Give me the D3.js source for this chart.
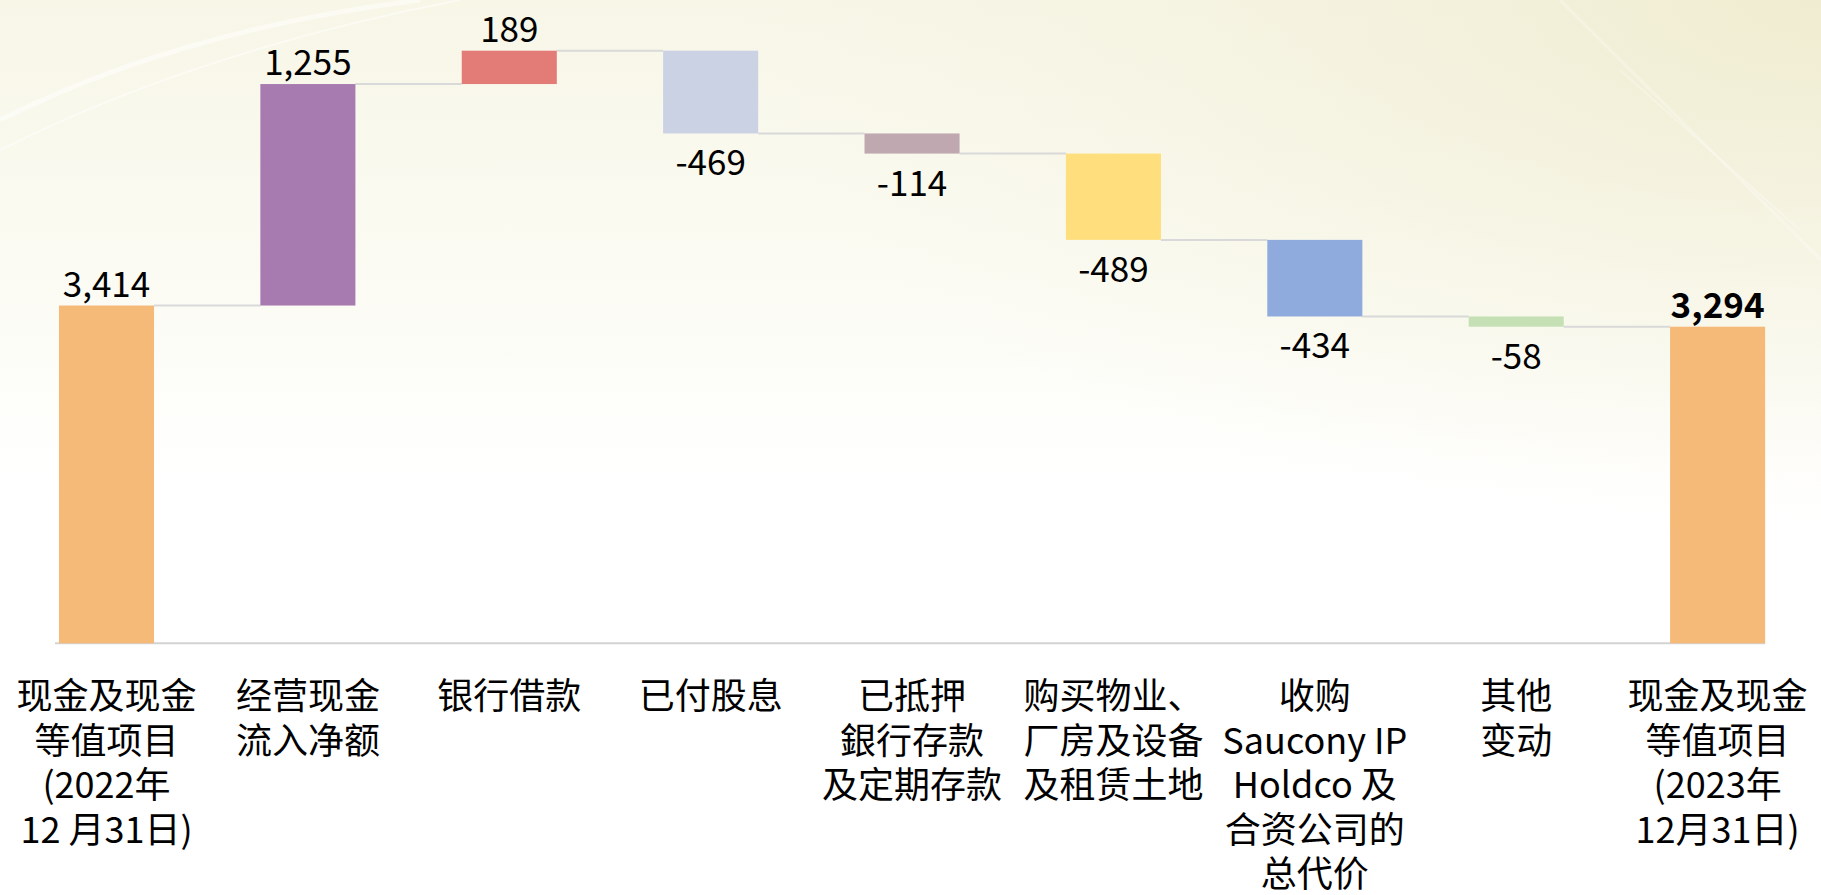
<!DOCTYPE html>
<html>
<head>
<meta charset="utf-8">
<script src="https://cdn.jsdelivr.net/npm/d3@7"></script>
<style>
  html, body { margin: 0; padding: 0; background: #fff; overflow: hidden; }
  svg { display: block; }
</style>
</head>
<body>
<div id="chart"></div>
<script>
// categories (one entry per bar, split into display lines)
const categories = [
  ['现金及现金', '等值项目', '(2022年', '12 月31日)'],
  ['经营现金', '流入净额'],
  ['银行借款'],
  ['已付股息'],
  ['已抵押', '銀行存款', '及定期存款'],
  ['购买物业、', '厂房及设备', '及租赁土地'],
  ['收购', 'Saucony IP', 'Holdco 及', '合资公司的', '总代价'],
  ['其他', '变动'],
  ['现金及现金', '等值项目', '(2023年', '12月31日)']
];

const values = [3414, 1255, 189, -469, -114, -489, -434, -58, 3294];
const kinds = ['total', 'delta', 'delta', 'delta', 'delta', 'delta', 'delta', 'delta', 'total'];
const labels = ['3,414', '1,255', '189', '-469', '-114', '-489', '-434', '-58', '3,294'];

const palette = ['#f5b978', '#a77ab0', '#e37b76', '#cbd2e3', '#bfa8b0', '#ffdf7d', '#8faadc', '#c5e0b4', '#f5b978'];

const width = 1821,
      height = 895;

// build waterfall steps from the values
let running = 0;
const yMin = 1500;
const steps = values.map(function(v, i) {
  let start, end;
  if (kinds[i] === 'total') {
    start = yMin; end = v; running = v;
  } else {
    start = running; end = running + v; running = end;
  }
  return { i: i, v: v, start: start, end: end, kind: kinds[i] };
});

const x = d3.scaleBand()
  .domain(d3.range(values.length))
  .range([5.8, 1818.3])
  .paddingInner(0.528)
  .paddingOuter(0.264);

const y = d3.scaleLinear()
  .domain([yMin, 4858])
  .range([643.3, 50.7]);

const svg = d3.select('#chart').append('svg')
  .attr('width', width)
  .attr('height', height);

// background
const defs = svg.append('defs');
const bgV = defs.append('linearGradient')
  .attr('id', 'bgV').attr('x1', 0).attr('y1', 0).attr('x2', 0).attr('y2', 1);
bgV.append('stop').attr('offset', '0%').attr('stop-color', '#f7f6e7');
bgV.append('stop').attr('offset', '30%').attr('stop-color', '#fbfbf3');
bgV.append('stop').attr('offset', '55%').attr('stop-color', '#ffffff');
bgV.append('stop').attr('offset', '100%').attr('stop-color', '#ffffff');

const bgR = defs.append('radialGradient')
  .attr('id', 'bgR').attr('cx', '100%').attr('cy', '0%').attr('r', '60%');
bgR.append('stop').attr('offset', '0%').attr('stop-color', '#efecd0').attr('stop-opacity', 1);
bgR.append('stop').attr('offset', '100%').attr('stop-color', '#f5f3e0').attr('stop-opacity', 0);

svg.append('rect').attr('width', width).attr('height', height).attr('fill', 'url(#bgV)');
svg.append('rect').attr('width', width).attr('height', height).attr('fill', 'url(#bgR)');

// faint streaks
const streaks = svg.append('g').attr('fill', 'none').attr('stroke', '#ffffff');
streaks.append('path').attr('d', 'M0,120 Q180,30 420,0').attr('stroke-width', 5).attr('stroke-opacity', 0.5);
streaks.append('path').attr('d', 'M0,150 Q200,50 460,0').attr('stroke-width', 2).attr('stroke-opacity', 0.5);
streaks.append('path').attr('d', 'M1560,0 L1821,260').attr('stroke-width', 3).attr('stroke-opacity', 0.25);
streaks.append('path').attr('d', 'M1620,70 L1800,230').attr('stroke-width', 2).attr('stroke-opacity', 0.25);

const g = svg.append('g');

// baseline
g.append('line')
  .attr('x1', x(0) - 4)
  .attr('x2', x(values.length - 1) + x.bandwidth())
  .attr('y1', y(yMin))
  .attr('y2', y(yMin))
  .style('stroke', '#d3d3d3')
  .style('stroke-width', 2);

// connectors
g.selectAll('.connector')
  .data(steps.slice(0, -1))
  .enter().append('line')
    .attr('class', 'connector')
    .attr('x1', function(d) { return x(d.i) + x.bandwidth(); })
    .attr('x2', function(d) { return x(d.i + 1); })
    .attr('y1', function(d) { return y(d.end); })
    .attr('y2', function(d) { return y(d.end); })
    .style('stroke', '#d9d9d9')
    .style('stroke-width', 2);

// bars
g.selectAll('.bar')
  .data(steps)
  .enter().append('rect')
    .attr('class', 'bar')
    .attr('x', function(d) { return x(d.i); })
    .attr('width', x.bandwidth())
    .attr('y', function(d) { return y(Math.max(d.start, d.end)); })
    .attr('height', function(d) { return Math.abs(y(d.start) - y(d.end)); })
    .style('fill', function(d) { return palette[d.i]; });

// value labels
g.selectAll('.value')
  .data(steps)
  .enter().append('text')
    .attr('class', 'value')
    .attr('x', function(d) { return x(d.i) + x.bandwidth() / 2; })
    .attr('y', function(d) {
      if (d.v >= 0) return y(Math.max(d.start, d.end)) - 9;
      return y(Math.min(d.start, d.end)) + 42;
    })
    .attr('text-anchor', 'middle')
    .style('font-family', '"Noto Sans CJK SC", "Noto Sans", sans-serif')
    .style('font-size', '35px')
    .style('font-weight', function(d) { return d.i === values.length - 1 ? 700 : 400; })
    .style('fill', '#000')
    .text(function(d) { return labels[d.i]; });

// category labels
const cat = g.selectAll('.cat')
  .data(categories)
  .enter().append('text')
    .attr('class', 'cat')
    .attr('text-anchor', 'middle')
    .style('font-family', '"Noto Sans CJK SC", sans-serif')
    .style('font-size', '36px')
    .style('fill', '#000');

cat.selectAll('tspan')
  .data(function(d, i) { return d.map(function(t) { return { t: t, i: i }; }); })
  .enter().append('tspan')
    .attr('x', function(d) { return x(d.i) + x.bandwidth() / 2; })
    .attr('y', function(d, j) { return 709 + j * 44.5; })
    .text(function(d) { return d.t; });
</script>
</body>
</html>
